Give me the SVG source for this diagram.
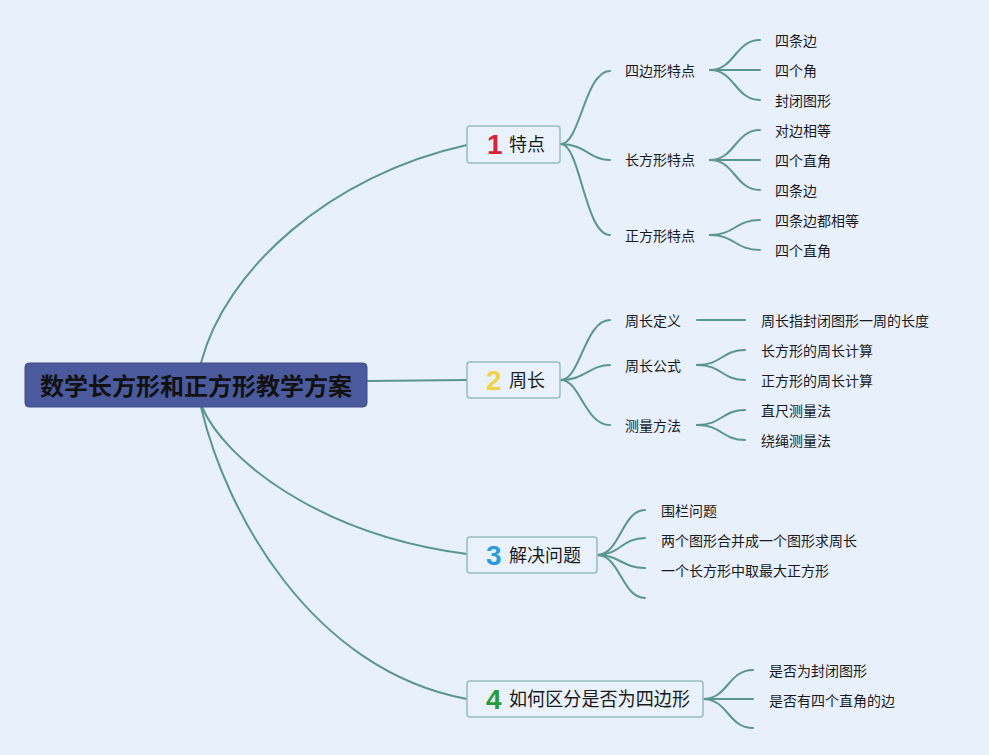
<svg xmlns="http://www.w3.org/2000/svg" width="989" height="755" viewBox="0 0 989 755">
<style>
.bg{fill:#e8f0fc}
.ln{fill:none;stroke:#5a968f;stroke-width:2;stroke-linecap:round}
.root{fill:#4a5a9c;stroke:#3e4d88;stroke-width:1}
.br{fill:#e9f1fb;stroke:#98bdbf;stroke-width:1.5}
.t{font-family:"Noto Sans CJK SC","Noto Sans",sans-serif;fill:#1a1a1a}
.rt{font-size:24px;font-weight:bold;fill:#111}
.bt{font-size:18px}
.lt{font-size:14px}
.num{font-family:"Liberation Sans","DejaVu Sans",sans-serif;font-weight:bold;font-size:28px}
</style>
<rect class="bg" x="0" y="0" width="989" height="755"/>
<g id="connectors">
<path class="ln" d="M201,363 C225,270 330,175 467,145"/>
<path class="ln" d="M367,381 L467,380"/>
<path class="ln" d="M202,407 C225,460 320,535 467,554"/>
<path class="ln" d="M201,407 C225,510 310,670 467,699"/>
<path class="ln" d="M561,144 C580,144 585,71 610,71"/>
<path class="ln" d="M561,144 C585,144 590,160 610,160"/>
<path class="ln" d="M561,144 C580,144 585,235 610,235"/>
<path class="ln" d="M710,70 C735,70 735,40 760,40"/>
<path class="ln" d="M710,70 L760,70"/>
<path class="ln" d="M710,70 C735,70 735,100 760,100"/>
<path class="ln" d="M710,160 C735,160 735,130 760,130"/>
<path class="ln" d="M710,160 L760,160"/>
<path class="ln" d="M710,160 C735,160 735,190 760,190"/>
<path class="ln" d="M710,235 C735,235 735,220 760,220"/>
<path class="ln" d="M710,235 C735,235 735,250 760,250"/>
<path class="ln" d="M561,380 C580,380 585,320 610,320"/>
<path class="ln" d="M561,380 C585,380 590,365 610,365"/>
<path class="ln" d="M561,380 C580,380 585,425 610,425"/>
<path class="ln" d="M697,320 L745,320"/>
<path class="ln" d="M697,365 C722,365 722,350 745,350"/>
<path class="ln" d="M697,365 C722,365 722,380 745,380"/>
<path class="ln" d="M697,425 C722,425 722,410 745,410"/>
<path class="ln" d="M697,425 C722,425 722,440 745,440"/>
<path class="ln" d="M597,555 C620,555 622,510 645,510"/>
<path class="ln" d="M597,555 C620,555 622,538 645,538"/>
<path class="ln" d="M597,555 C620,555 622,568 645,568"/>
<path class="ln" d="M597,555 C620,555 622,598 645,598"/>
<path class="ln" d="M703,699 C728,699 728,670 753,670"/>
<path class="ln" d="M703,699 L753,699"/>
<path class="ln" d="M703,699 C728,699 728,728 753,728"/>
</g>
<g id="root">
<rect class="root" x="25" y="363" width="342" height="44" rx="4"/>
<text class="t rt" x="196" y="395" text-anchor="middle">数学长方形和正方形教学方案</text>
</g>
<g id="n1">
<rect class="br" x="467" y="126" width="93" height="37" rx="3"/>
<text class="num" x="487" y="154" style="fill:#d8213a">1</text>
<text class="t bt" x="509" y="151">特点</text>
</g>
<g id="n2">
<rect class="br" x="467" y="362" width="93" height="36" rx="3"/>
<text class="num" x="486" y="390" style="fill:#f3d24b">2</text>
<text class="t bt" x="509" y="387">周长</text>
</g>
<g id="n3">
<rect class="br" x="467" y="537" width="130" height="36" rx="3"/>
<text class="num" x="486" y="565" style="fill:#2d9bd9">3</text>
<text class="t bt" x="509" y="562">解决问题</text>
</g>
<g id="n4">
<rect class="br" x="467" y="681" width="236" height="36" rx="3"/>
<text class="num" x="486" y="709" style="fill:#2a9a3a">4</text>
<text class="t" x="509" y="706" style="font-size:19px" textLength="181" lengthAdjust="spacingAndGlyphs">如何区分是否为四边形</text>
</g>
<g id="n1a"><text class="t lt" x="625" y="76">四边形特点</text></g>
<g id="n1b"><text class="t lt" x="625" y="165">长方形特点</text></g>
<g id="n1c"><text class="t lt" x="625" y="241">正方形特点</text></g>
<g id="l1"><text class="t lt" x="775" y="46">四条边</text></g>
<g id="l2"><text class="t lt" x="775" y="76">四个角</text></g>
<g id="l3"><text class="t lt" x="775" y="106">封闭图形</text></g>
<g id="l4"><text class="t lt" x="775" y="136">对边相等</text></g>
<g id="l5"><text class="t lt" x="775" y="166">四个直角</text></g>
<g id="l6"><text class="t lt" x="775" y="196">四条边</text></g>
<g id="l7"><text class="t lt" x="775" y="226">四条边都相等</text></g>
<g id="l8"><text class="t lt" x="775" y="256">四个直角</text></g>
<g id="n2a"><text class="t lt" x="625" y="326">周长定义</text></g>
<g id="n2b"><text class="t lt" x="625" y="371">周长公式</text></g>
<g id="n2c"><text class="t lt" x="625" y="431">测量方法</text></g>
<g id="l9"><text class="t lt" x="761" y="326">周长指封闭图形一周的长度</text></g>
<g id="l10"><text class="t lt" x="761" y="356">长方形的周长计算</text></g>
<g id="l11"><text class="t lt" x="761" y="386">正方形的周长计算</text></g>
<g id="l12"><text class="t lt" x="761" y="416">直尺测量法</text></g>
<g id="l13"><text class="t lt" x="761" y="446">绕绳测量法</text></g>
<g id="n3a"><text class="t lt" x="661" y="516">围栏问题</text></g>
<g id="n3b"><text class="t lt" x="661" y="546">两个图形合并成一个图形求周长</text></g>
<g id="n3c"><text class="t lt" x="661" y="576">一个长方形中取最大正方形</text></g>
<g id="n4a"><text class="t lt" x="769" y="676">是否为封闭图形</text></g>
<g id="n4b"><text class="t lt" x="769" y="706">是否有四个直角的边</text></g>
</svg>
